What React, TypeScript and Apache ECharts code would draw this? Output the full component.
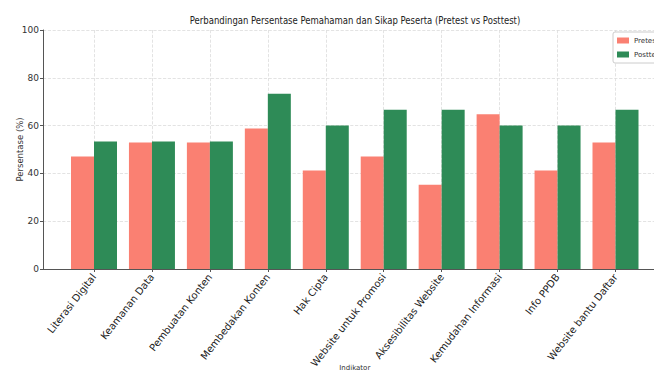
import React, { useEffect, useRef } from "react";
import * as echarts from "echarts";

const categories = [
  "Literasi Digital",
  "Keamanan Data",
  "Pembuatan Konten",
  "Membedakan Konten",
  "Hak Cipta",
  "Website untuk Promosi",
  "Aksesibilitas Website",
  "Kemudahan Informasi",
  "Info PPDB",
  "Website bantu Daftar",
];
const pretest = [47.06, 52.94, 52.94, 58.82, 41.18, 47.06, 35.29, 64.71, 41.18, 52.94];
const posttest = [53.33, 53.33, 53.33, 73.33, 60.0, 66.67, 66.67, 60.0, 60.0, 66.67];
const yTicks = { min: 0, max: 100, interval: 20 };
const titleText = "Perbandingan Persentase Pemahaman dan Sikap Peserta (Pretest vs Posttest)";

const FONT = "DejaVu Sans";

export default function App() {
  const ref = useRef<HTMLDivElement>(null);
  useEffect(() => {
    if (!ref.current) return;
    const chart = echarts.init(ref.current, null, { renderer: "svg" });
    chart.setOption({
      animation: false,
      backgroundColor: "#ffffff",
      textStyle: { fontFamily: FONT },
      graphic: [
        {
          type: "text",
          x: 355,
          y: 20,
          scaleX: 0.85,
          style: {
            text: titleText,
            fontFamily: FONT,
            fontSize: 10,
            fill: "#222",
            textAlign: "center",
            textVerticalAlign: "middle",
          },
        },
      ],
      legend: {
        left: 613,
        top: 32,
        orient: "vertical",
        itemWidth: 12,
        itemHeight: 6,
        itemGap: 7,
        icon: "rect",
        textStyle: { fontSize: 7, color: "#333", fontFamily: FONT },
        borderColor: "#ccc",
        borderWidth: 1,
        borderRadius: 2,
        padding: [5, 6, 5, 4],
        backgroundColor: "#fff",
        data: ["Pretest", "Posttest"],
      },
      grid: [
        { left: 43, top: 30, width: 625, height: 239, containLabel: false, outerBoundsMode: "none" },
        { left: 94, top: 30, width: 521.5, height: 239, containLabel: false, outerBoundsMode: "none" },
      ],
      xAxis: [
        {
          gridIndex: 0,
          type: "value",
          min: 0,
          max: 1,
          axisLine: { show: true, lineStyle: { color: "#555", width: 1 } },
          axisTick: { show: false },
          axisLabel: { show: false },
          splitLine: { show: false },
        },
        {
          gridIndex: 1,
          type: "category",
          boundaryGap: false,
          data: categories,
          axisLine: { show: false },
          axisTick: { show: true, length: 3, lineStyle: { color: "#555" } },
          axisLabel: {
            rotate: 52,
            fontSize: 10,
            color: "#222",
            margin: 6,
            interval: 0,
            fontFamily: FONT,
          },
          splitLine: {
            show: true,
            lineStyle: { type: "dashed", color: "#dcdcdc", width: 0.8 },
          },
          name: "Indikator",
          nameLocation: "middle",
          nameGap: 95,
          nameMoveOverlap: false,
          nameTextStyle: { fontSize: 7, color: "#333", fontFamily: FONT },
        },
      ],
      yAxis: [
        {
          gridIndex: 0,
          type: "value",
          min: yTicks.min,
          max: yTicks.max,
          interval: yTicks.interval,
          axisLine: { show: true, lineStyle: { color: "#555", width: 1 } },
          axisTick: { show: true, length: 3, lineStyle: { color: "#555" } },
          axisLabel: { fontSize: 9, color: "#333", margin: 4, fontFamily: FONT },
          splitLine: {
            show: true,
            lineStyle: { type: "dashed", color: "#dcdcdc", width: 0.8 },
          },
          name: "Persentase (%)",
          nameLocation: "middle",
          nameGap: 19,
          nameRotate: 90,
          nameMoveOverlap: false,
          nameTextStyle: { fontSize: 8.5, color: "#333", fontFamily: FONT },
        },
        {
          gridIndex: 1,
          type: "value",
          min: yTicks.min,
          max: yTicks.max,
          show: false,
        },
      ],
      series: [
        {
          name: "Pretest",
          type: "bar",
          xAxisIndex: 1,
          yAxisIndex: 1,
          data: pretest,
          barWidth: 23,
          barGap: "0%",
          clip: false,
          itemStyle: { color: "#FA8072" },
        },
        {
          name: "Posttest",
          type: "bar",
          xAxisIndex: 1,
          yAxisIndex: 1,
          data: posttest,
          barWidth: 23,
          barGap: "0%",
          clip: false,
          itemStyle: { color: "#2E8B57" },
        },
      ],
    });
    return () => chart.dispose();
  }, []);
  return (
    <div
      ref={ref}
      style={{ position: "fixed", left: 0, top: 0, width: 654, height: 374 }}
    />
  );
}
